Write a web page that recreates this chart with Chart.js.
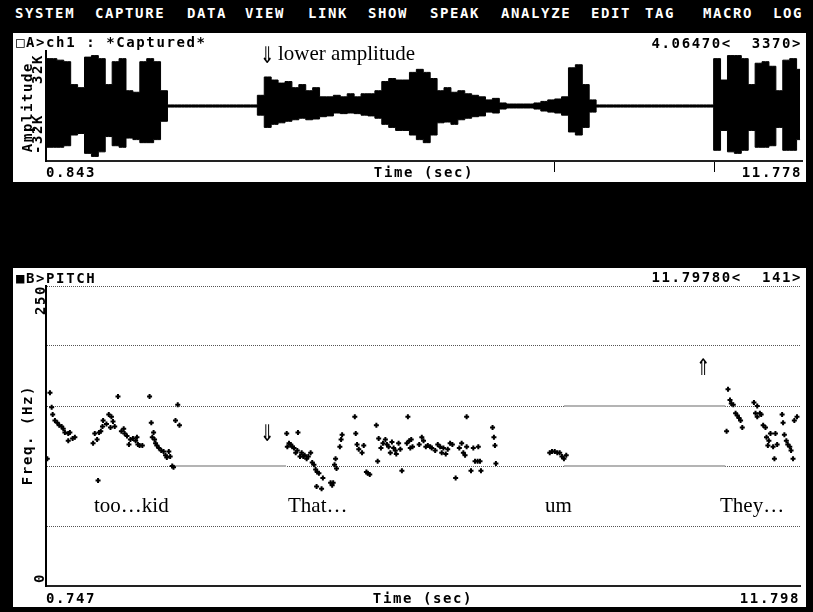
<!DOCTYPE html>
<html>
<head>
<meta charset="utf-8">
<script src="https://cdn.jsdelivr.net/npm/chart.js@4.4.0/dist/chart.umd.min.js"></script>
<style>
  html, body { margin: 0; padding: 0; background: #000; }
  body { width: 813px; height: 612px; position: relative; overflow: hidden; }
  .dos { position: absolute; font: bold 14px "DejaVu Sans Mono", monospace; letter-spacing: 1.6px; white-space: pre; line-height: 14px; color: #000; }
  .menu { color: #fff; top: 6px; }
  .panel { position: absolute; background: #fff; left: 13px; width: 793px; }
  .rot { transform: translate(-50%, -50%) rotate(-90deg); }
  .serif { position: absolute; font: 21px "Liberation Serif", "Times New Roman", serif; line-height: 21px; white-space: pre; color: #000; }
  .arrow { position: absolute; font: 23px "DejaVu Sans", sans-serif; line-height: 23px; transform: scaleX(0.75); transform-origin: left top; color: #000; }
  canvas { position: absolute; }
</style>
</head>
<body>
<div class="dos menu" style="left:15px">SYSTEM</div>
<div class="dos menu" style="left:95px">CAPTURE</div>
<div class="dos menu" style="left:187px">DATA</div>
<div class="dos menu" style="left:245px">VIEW</div>
<div class="dos menu" style="left:308px">LINK</div>
<div class="dos menu" style="left:368px">SHOW</div>
<div class="dos menu" style="left:430px">SPEAK</div>
<div class="dos menu" style="left:501px">ANALYZE</div>
<div class="dos menu" style="left:591px">EDIT</div>
<div class="dos menu" style="left:645px">TAG</div>
<div class="dos menu" style="left:703px">MACRO</div>
<div class="dos menu" style="left:773px">LOG</div>

<div class="panel" style="top:33px;height:149px"></div>
<div class="panel" style="top:268px;height:339px"></div>

<canvas id="wave" width="793" height="149" style="left:13px;top:33px"></canvas>
<canvas id="pitch" width="793" height="339" style="left:13px;top:268px"></canvas>

<div class="dos" style="left:16px;top:35px">□A>ch1 : *Captured*</div>
<div class="dos" style="right:11px;top:36px">4.06470<  3370></div>
<div class="dos rot" style="left:27px;top:107px">Amplitude</div>
<div class="dos rot" style="left:37px;top:69px">32K</div>
<div class="dos rot" style="left:37px;top:134px">-32K</div>

<div class="dos" style="left:16px;top:271px">■B>PITCH</div>
<div class="dos" style="right:11px;top:270px">11.79780<  141></div>
<div class="dos rot" style="left:27px;top:435px">Freq. (Hz)</div>
<div class="dos rot" style="left:40px;top:300px">250</div>
<div class="dos rot" style="left:39px;top:578px">0</div>

<div class="arrow" style="left:260px;top:44px">⇓</div>
<div class="serif" style="left:278px;top:43px">lower amplitude</div>
<div class="arrow" style="left:260px;top:422px">⇓</div>
<div class="arrow" style="left:696px;top:356px">⇑</div>
<div class="serif" style="left:94px;top:495px">too…kid</div>
<div class="serif" style="left:288px;top:495px">That…</div>
<div class="serif" style="left:545px;top:495px">um</div>
<div class="serif" style="left:720px;top:495px">They…</div>

<script>
// waveform envelope, in K (thousands), one bin every 0.1 s from 0.85 s
const waveStart = 0.85;
const waveStep = 0.1;
const waveTop = [31, 31, 30, 29, 14, 12, 32, 33, 31, 14, 29, 31, 10, 9, 29, 31, 29, 10,
  0.7, 0.7, 0.7, 0.7, 0.7, 0.7, 0.7, 0.7, 0.7, 0.7, 0.7, 0.7, 0.7,
  7, 19, 17, 15, 16, 12, 14, 10, 12, 6,
  6, 7, 6, 8, 6, 8, 8, 10, 16, 18,
  17, 17, 22, 24, 22, 18, 10, 12, 9, 10,
  8, 7, 6, 4, 5, 2, 1.3, 1.3, 1.3, 1.3,
  2, 3, 4, 4.6, 6, 25, 27, 14, 4,
  0.7, 0.7, 0.7, 0.7, 0.7, 0.7, 0.7, 0.7, 0.7, 0.7, 0.7, 0.7, 0.7, 0.7, 0.7, 0.7, 0.7,
  31, 17, 33, 33, 31, 14, 28, 29, 26, 10, 30, 31, 24];
const waveBottom = [-27, -27, -27, -26, -19, -18, -31, -33, -30, -20, -26, -27, -21, -22, -24, -24, -22, -10,
  -0.7, -0.7, -0.7, -0.7, -0.7, -0.7, -0.7, -0.7, -0.7, -0.7, -0.7, -0.7, -0.7,
  -6, -14, -12, -11, -10, -9, -8, -9, -8.5, -7,
  -6.5, -4.6, -5, -4.6, -5, -6, -6.5, -8, -12, -14,
  -16, -16, -19, -22, -24, -19, -11, -10.5, -12, -9,
  -8, -7, -6.5, -4, -4.6, -2, -1.3, -1.3, -1.3, -1.3,
  -2, -3.3, -4, -4.6, -6, -17, -19, -14, -4,
  -0.7, -0.7, -0.7, -0.7, -0.7, -0.7, -0.7, -0.7, -0.7, -0.7, -0.7, -0.7, -0.7, -0.7, -0.7, -0.7, -0.7,
  -29, -16, -30, -31, -29, -16, -27, -27, -26, -14, -29, -29, -22];
const waveRange = [0.843, 11.778];
const cursorTimes = [8.195, 10.507];

// pitch track
const pitchTime = [0.766, 0.805, 0.830, 0.845, 0.878, 0.912, 0.941, 0.976, 1.000, 1.024, 1.073, 1.073, 1.097, 1.137, 1.170,
  1.437, 1.462, 1.496, 1.510, 1.525, 1.550, 1.575, 1.584, 1.633, 1.667, 1.692, 1.706, 1.729, 1.754, 1.802,
  1.852, 1.886, 1.900, 1.934, 1.963, 1.984, 2.021, 2.061, 2.080, 2.094, 2.119, 2.159,
  2.265, 2.290, 2.305, 2.324, 2.338, 2.353, 2.372, 2.401, 2.436, 2.470, 2.499, 2.518, 2.547, 2.567, 2.597, 2.616,
  2.645, 2.678, 2.703,
  4.275, 4.284, 4.309, 4.334, 4.357, 4.382, 4.407, 4.430, 4.440, 4.470, 4.494, 4.518, 4.538, 4.567, 4.591, 4.626,
  4.649, 4.674, 4.699, 4.713, 4.722, 4.747, 4.786, 4.805, 4.918, 4.941, 4.956, 4.976, 4.991, 5.005, 5.054, 5.072, 5.087,
  5.273, 5.287, 5.306, 5.331, 5.379, 5.404, 5.443, 5.462, 5.492, 5.589, 5.608, 5.623, 5.656, 5.686, 5.721, 5.744,
  5.769, 5.794, 5.817, 5.842, 5.867, 5.881, 5.915, 5.940, 5.963, 6.036, 6.051, 6.071, 6.086, 6.100, 6.119,
  6.217, 6.255, 6.280, 6.314, 6.343, 6.378, 6.401, 6.451, 6.489, 6.524, 6.547, 6.572, 6.606, 6.635, 6.670, 6.703,
  6.751, 6.805, 6.839, 6.864, 6.889, 6.912, 6.912, 6.976, 7.010, 7.035, 7.073, 7.083, 7.108, 7.122,
  7.292, 7.312, 7.327, 7.341,
  8.130, 8.163, 8.203, 8.241, 8.276, 8.309, 8.338, 8.372,
  10.722, 10.743, 10.772, 10.791, 10.820, 10.854, 10.879, 10.904, 10.927, 10.952,
  11.123, 11.146, 11.171, 11.171, 11.210, 11.229, 11.258, 11.292, 11.307, 11.327, 11.342, 11.365, 11.404, 11.423,
  11.438, 11.463, 11.536, 11.550, 11.569, 11.598, 11.619, 11.648, 11.667, 11.696, 11.715, 11.754];
const pitchHz = [106, 161, 149, 143, 138, 136, 134, 133, 131, 128, 127, 121, 128, 123, 124,
  119, 127, 122, 88, 128, 129, 133, 138, 135, 143, 132, 141, 137, 133, 158,
  129, 131, 127, 125, 118, 122, 123, 121, 124, 118, 117, 117,
  158, 136, 124, 128, 122, 119, 117, 115, 113, 112, 109, 107, 112, 108, 100, 99,
  138, 151, 134,
  127, 116, 119, 118, 116, 115, 111, 113, 128, 108, 111, 108, 109, 106, 108, 111,
  103, 101, 97, 83, 95, 94, 81, 90, 86, 84, 86, 101, 106, 98, 116, 122, 126,
  141, 127, 118, 114, 111, 117, 95, 94, 93, 134, 104, 123, 115, 119, 122, 118,
  116, 111, 120, 115, 113, 110, 119, 114, 96, 119, 141, 121, 115, 122, 116,
  118, 124, 121, 116, 117, 116, 115, 113, 118, 116, 111, 115, 110, 114, 119, 118,
  90, 115, 119, 111, 109, 141, 116, 96, 115, 104, 104, 116, 104, 96,
  132, 124, 117, 102,
  111, 112, 112, 111, 111, 108, 106, 109,
  129, 164, 155, 152, 151, 144, 142, 140, 138, 132,
  153, 144, 150, 141, 144, 143, 134, 132, 124, 117, 121, 127, 116, 106,
  127, 118, 143, 136, 126, 121, 118, 116, 113, 106, 138, 141];
const pitchRange = [0.747, 11.798];
const pitchTicks = [0, 50, 100, 150, 200, 250];

// grey marks on the grid during unvoiced stretches
const unvoiced = [
  { from: 2.63, to: 4.265, hz: 100 },
  { from: 8.338, to: 10.703, hz: 100 },
  { from: 8.338, to: 10.703, hz: 150 }
];

const xLabelsWave = ["0.843", "Time (sec)", "11.778"];
const xLabelsPitch = ["0.747", "Time (sec)", "11.798"];

const dosFont = { family: "DejaVu Sans Mono", weight: "bold", size: 14 };

const spacing = {
  id: "spacing",
  beforeDraw(chart) { chart.ctx.letterSpacing = "1.6px"; }
};

function timeAxis(range, labels, pad) {
  return {
    type: "linear",
    min: range[0],
    max: range[1],
    grid: { display: false, drawTicks: false },
    border: { display: true, color: "#222", width: 2 },
    ticks: {
      autoSkip: false, maxRotation: 0, align: "inner", padding: pad,
      color: "#000", font: dosFont,
      callback: (v, i) => labels[i]
    },
    afterBuildTicks: s => {
      s.ticks = [{ value: range[0] }, { value: (range[0] + range[1]) / 2 }, { value: range[1] }];
    },
    afterFit: s => { s.height = 21; }
  };
}

// waveform
const topPts = waveTop.map((v, i) => ({ x: waveStart + i * waveStep, y: v }));
const botPts = waveBottom.map((v, i) => ({ x: waveStart + i * waveStep, y: v }));

const cursorMarks = {
  id: "cursorMarks",
  afterDraw(chart) {
    const { ctx, chartArea } = chart;
    const x = chart.scales.x;
    ctx.save();
    ctx.strokeStyle = "#000";
    ctx.lineWidth = 1;
    cursorTimes.forEach(t => {
      const px = Math.round(x.getPixelForValue(t)) + 0.5;
      ctx.beginPath();
      ctx.moveTo(px, chartArea.bottom + 1);
      ctx.lineTo(px, chartArea.bottom + 11);
      ctx.stroke();
    });
    ctx.restore();
  }
};

new Chart(document.getElementById("wave"), {
  type: "line",
  data: {
    datasets: [
      { data: topPts, fill: "origin", backgroundColor: "#000", borderColor: "#000", borderWidth: 1, pointRadius: 0, stepped: "middle" },
      { data: botPts, fill: "origin", backgroundColor: "#000", borderColor: "#000", borderWidth: 1, pointRadius: 0, stepped: "middle" }
    ]
  },
  options: {
    responsive: false,
    animation: false,
    layout: { padding: { top: 18, right: 3, left: 0, bottom: 0 } },
    plugins: { legend: { display: false }, tooltip: { enabled: false } },
    scales: {
      x: timeAxis(waveRange, xLabelsWave, 4),
      y: {
        min: -36, max: 36,
        grid: { display: false, drawTicks: false },
        ticks: { display: false },
        border: { display: true, color: "#000", width: 2 },
        afterFit: s => { s.width = 33; }
      }
    }
  },
  plugins: [spacing, cursorMarks]
});

// pitch
const pitchPts = pitchTime.map((t, i) => ({ x: t, y: pitchHz[i] }));
const unvoicedSets = unvoiced.map(u => ({
  type: "line",
  data: [{ x: u.from, y: u.hz }, { x: u.to, y: u.hz }],
  borderColor: "#b4b4b4", borderWidth: 2, pointRadius: 0, order: 2
}));

new Chart(document.getElementById("pitch"), {
  type: "scatter",
  data: {
    datasets: [
      { data: pitchPts, pointStyle: "cross", pointRadius: 2.5, borderWidth: 2, borderColor: "#000", backgroundColor: "#000", order: 1 }
    ].concat(unvoicedSets)
  },
  options: {
    responsive: false,
    animation: false,
    layout: { padding: { top: 18, right: 3, left: 0, bottom: 0 } },
    plugins: { legend: { display: false }, tooltip: { enabled: false } },
    scales: {
      x: timeAxis(pitchRange, xLabelsPitch, 5),
      y: {
        min: 0, max: 250,
        afterBuildTicks: s => { s.ticks = pitchTicks.map(v => ({ value: v })); },
        ticks: { display: false },
        grid: { display: true, drawTicks: false, color: "#555", lineWidth: 1 },
        border: { display: true, color: "#000", width: 2, dash: [1, 1] },
        afterFit: s => { s.width = 33; }
      }
    }
  },
  plugins: [spacing]
});
</script>
</body>
</html>
